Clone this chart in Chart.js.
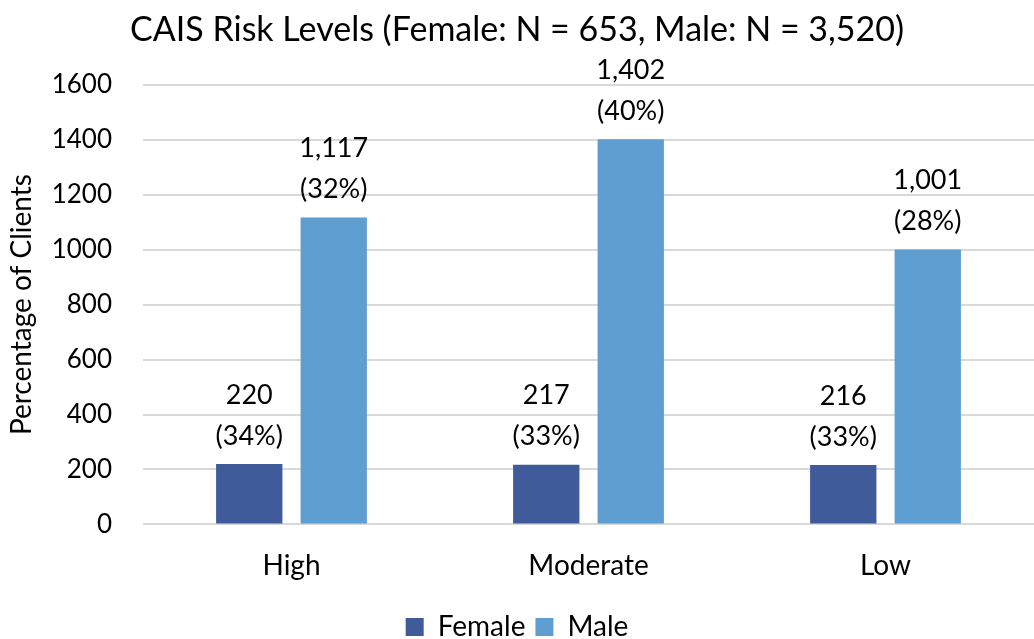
<!DOCTYPE html>
<html>
<head>
<meta charset="utf-8">
<script src="https://cdn.jsdelivr.net/npm/chart.js@4"></script>
<style>
  html, body { margin: 0; padding: 0; background: #fff; }
  #wrap { width: 1034px; height: 639px; }
</style>
</head>
<body>
<div id="wrap"><canvas id="myChart"></canvas></div>
<script>
const categories = ['High', 'Moderate', 'Low'];
const femaleCounts = [220, 217, 216];
const maleCounts = [1117, 1402, 1001];
const femalePct = ['34%', '33%', '33%'];
const malePct = ['32%', '40%', '28%'];
const yTicks = [0, 200, 400, 600, 800, 1000, 1200, 1400, 1600];

const FONT = 'Lato, Carlito, Calibri, "Open Sans", sans-serif';

// two-line labels above each bar: count, then (percent)
const barLabels = {
    id: 'barLabels',
    afterDatasetsDraw(chart) {
        const ctx = chart.ctx;
        ctx.save();
        ctx.font = '27px ' + FONT;
        ctx.fillStyle = '#000';
        ctx.textAlign = 'center';
        ctx.textBaseline = 'middle';
        chart.data.datasets.forEach((ds, i) => {
            const meta = chart.getDatasetMeta(i);
            meta.data.forEach((bar, j) => {
                const count = ds.data[j].toLocaleString('en-US');
                const pct = '(' + ds.pct[j] + ')';
                ctx.fillText(count, bar.x, bar.y - 69);
                ctx.fillText(pct, bar.x, bar.y - 28);
            });
        });
        ctx.restore();
    }
};

function createChart() {
    const ctx = document.getElementById('myChart');

    const data = {
        labels: categories,
        datasets: [
            {
                label: 'Female',
                data: femaleCounts,
                pct: femalePct,
                backgroundColor: '#3F5B99'
            },
            {
                label: 'Male',
                data: maleCounts,
                pct: malePct,
                backgroundColor: '#5F9ED1'
            }
        ]
    };

    const config = {
        type: 'bar',
        data: data,
        options: {
            responsive: true,
            maintainAspectRatio: false,
            animation: false,
            devicePixelRatio: 1,
            datasets: {
                bar: {
                    categoryPercentage: 0.569,
                    barPercentage: 0.785
                }
            },
            layout: {
                padding: { left: 0, right: 0, top: 4, bottom: -12 }
            },
            plugins: {
                title: {
                    display: true,
                    text: 'CAIS Risk Levels (Female: N = 653, Male: N = 3,520)',
                    color: '#000',
                    font: { family: FONT, size: 34, weight: 'normal' },
                    padding: { top: 6, bottom: 34 }
                },
                legend: {
                    position: 'bottom',
                    labels: {
                        color: '#000',
                        boxWidth: 18,
                        boxHeight: 18,
                        padding: 10,
                        font: { family: FONT, size: 28 }
                    }
                },
                tooltip: { enabled: false }
            },
            scales: {
                x: {
                    grid: { display: false },
                    border: { display: false },
                    afterFit(axis) {
                        axis.height += 3;
                    },
                    ticks: {
                        color: '#000',
                        padding: 17,
                        font: { family: FONT, size: 28 }
                    }
                },
                y: {
                    min: 0,
                    max: 1600,
                    afterBuildTicks(axis) {
                        axis.ticks = yTicks.map(v => ({ value: v }));
                    },
                    afterFit(axis) {
                        axis.width = 143;
                    },
                    grid: { color: '#D9D9D9', lineWidth: 2, drawTicks: false },
                    border: { display: false },
                    title: {
                        display: true,
                        text: 'Percentage of Clients',
                        color: '#000',
                        font: { family: FONT, size: 28 },
                        padding: { top: 5, bottom: 0 }
                    },
                    ticks: {
                        color: '#000',
                        padding: 31,
                        font: { family: FONT, size: 26 },
                        callback: v => String(v)
                    }
                }
            }
        },
        plugins: [barLabels]
    };

    return new Chart(ctx, config);
}

const chart = createChart();
</script>
</body>
</html>
